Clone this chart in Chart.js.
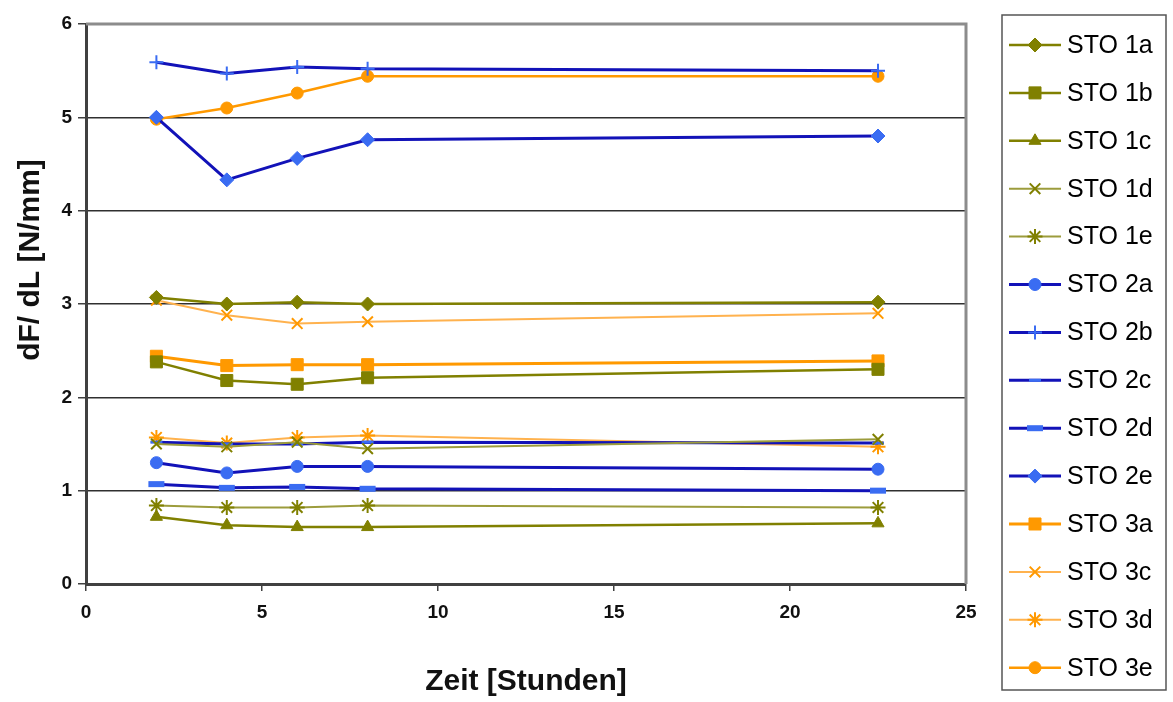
<!DOCTYPE html>
<html>
<head>
<meta charset="utf-8">
<title>STO dF/dL</title>
<script src="https://cdn.jsdelivr.net/npm/chart.js@4/dist/chart.umd.min.js"></script>
<style>
  html, body { margin: 0; padding: 0; background: #fff; }
  #wrap { width: 1173px; height: 702px; }
</style>
</head>
<body>
<div id="wrap"><canvas id="stoChart" width="1173" height="702"></canvas></div>
<script>
// Measuring times in hours
const hours = [2, 4, 6, 8, 22.5];

// dF/dL per sample [N/mm]
const sto1a = [3.07, 3.00, 3.02, 3.00, 3.02];
const sto1b = [2.38, 2.18, 2.14, 2.21, 2.30];
const sto1c = [0.72, 0.63, 0.61, 0.61, 0.65];
const sto1d = [1.50, 1.47, 1.52, 1.45, 1.55];
const sto1e = [0.84, 0.82, 0.82, 0.84, 0.82];
const sto2a = [1.30, 1.19, 1.26, 1.26, 1.23];
const sto2b = [5.59, 5.47, 5.54, 5.52, 5.50];
const sto2c = [1.52, 1.50, 1.50, 1.52, 1.51];
const sto2d = [1.07, 1.03, 1.04, 1.02, 1.00];
const sto2e = [5.00, 4.33, 4.56, 4.76, 4.80];
const sto3a = [2.44, 2.34, 2.35, 2.35, 2.39];
const sto3c = [3.04, 2.88, 2.79, 2.81, 2.90];
const sto3d = [1.57, 1.51, 1.57, 1.59, 1.47];
const sto3e = [4.98, 5.10, 5.26, 5.44, 5.44];

const xTicks = [0, 5, 10, 15, 20, 25];
const yTicks = [0, 1, 2, 3, 4, 5, 6];

const OLIVE = '#808000';
const OLIVE_LIGHT = '#9c9c3c';
const NAVY = '#1212b8';
const BLUE = '#3a6cf2';
const ORANGE = '#ff9900';
const ORANGE_LIGHT = '#ffb24e';

// name, values, line colour, line width, marker colour, marker style, marker radius, marker stroke
const seriesList = [
    ['STO 1a', sto1a, OLIVE, 2.5, OLIVE, 'rectRot', 7, 1],
    ['STO 1b', sto1b, OLIVE, 2.5, OLIVE, 'rect', 8.5, 1],
    ['STO 1c', sto1c, OLIVE, 2.5, OLIVE, 'triangle', 7, 1],
    ['STO 1d', sto1d, OLIVE_LIGHT, 2, OLIVE, 'crossRot', 7.5, 2],
    ['STO 1e', sto1e, OLIVE_LIGHT, 2, OLIVE, 'star', 7.5, 2],
    ['STO 2a', sto2a, NAVY, 3, BLUE, 'circle', 6, 1],
    ['STO 2b', sto2b, NAVY, 3, BLUE, 'cross', 7, 2],
    ['STO 2c', sto2c, NAVY, 3, BLUE, 'line', 6, 3],
    ['STO 2d', sto2d, NAVY, 3, BLUE, 'line', 8, 6],
    ['STO 2e', sto2e, NAVY, 3, BLUE, 'rectRot', 7, 1],
    ['STO 3a', sto3a, ORANGE, 3, ORANGE, 'rect', 8.5, 1],
    ['STO 3c', sto3c, ORANGE_LIGHT, 2, ORANGE, 'crossRot', 7.5, 2],
    ['STO 3d', sto3d, ORANGE_LIGHT, 2, ORANGE, 'star', 7.5, 2],
    ['STO 3e', sto3e, ORANGE, 2.5, ORANGE, 'circle', 6, 1]
];

const datasets = seriesList.map(s => ({
    label: s[0],
    data: s[1].map((v, i) => ({ x: hours[i], y: v })),
    borderColor: s[2],
    borderWidth: s[3],
    pointBackgroundColor: s[4],
    pointBorderColor: s[4],
    pointStyle: s[5],
    pointRadius: s[6],
    pointBorderWidth: s[7],
    tension: 0,
    fill: false
}));

// Frame, titles and the boxed legend on the right
const framePlugin = {
    id: 'frame',
    afterDraw(chart) {
        const ctx = chart.ctx;
        const a = chart.chartArea;
        ctx.save();

        // top and right border of the plot area
        ctx.strokeStyle = '#8c8c8c';
        ctx.lineWidth = 3;
        ctx.beginPath();
        ctx.moveTo(a.left, a.top);
        ctx.lineTo(a.right, a.top);
        ctx.lineTo(a.right, a.bottom);
        ctx.stroke();

        // axis titles
        ctx.fillStyle = '#111';
        ctx.font = 'bold 30px "Liberation Sans", Arial, sans-serif';
        ctx.textAlign = 'center';
        ctx.textBaseline = 'middle';
        ctx.fillText('Zeit [Stunden]', (a.left + a.right) / 2, 682);
        ctx.save();
        ctx.translate(31, 260);
        ctx.rotate(-Math.PI / 2);
        ctx.fillText('dF/ dL [N/mm]', 0, 0);
        ctx.restore();

        // legend box
        ctx.strokeStyle = '#555';
        ctx.lineWidth = 1.5;
        ctx.strokeRect(1002, 15, 164, 675);

        ctx.font = '25px "Liberation Sans", Arial, sans-serif';
        ctx.textAlign = 'left';
        chart.data.datasets.forEach((ds, i) => {
            const y = 45 + i * 47.9;
            ctx.strokeStyle = ds.borderColor;
            ctx.lineWidth = ds.borderWidth;
            ctx.beginPath();
            ctx.moveTo(1009, y);
            ctx.lineTo(1061, y);
            ctx.stroke();
            ctx.fillStyle = ds.pointBackgroundColor;
            ctx.strokeStyle = ds.pointBorderColor;
            ctx.lineWidth = ds.pointBorderWidth;
            Chart.helpers.drawPoint(ctx, {
                pointStyle: ds.pointStyle,
                radius: ds.pointRadius,
                borderWidth: ds.pointBorderWidth,
                rotation: 0
            }, 1035, y);
            ctx.fillStyle = '#000';
            ctx.fillText(ds.label, 1067, y + 1);
        });
        ctx.restore();
    }
};

const ctx = document.getElementById('stoChart').getContext('2d');
const chart = new Chart(ctx, {
    type: 'line',
    data: { datasets: datasets },
    options: {
        responsive: false,
        animation: false,
        layout: { padding: { top: 24, right: 207, left: 0, bottom: 0 } },
        plugins: {
            legend: { display: false },
            tooltip: { enabled: false }
        },
        scales: {
            x: {
                type: 'linear',
                min: 0,
                max: 25,
                afterFit: s => { s.height = 118; },
                afterBuildTicks: s => { s.ticks = xTicks.map(v => ({ value: v })); },
                grid: { drawOnChartArea: false, drawTicks: true, tickLength: 7, color: '#404040', lineWidth: 1.5 },
                border: { color: '#404040', width: 3 },
                ticks: {
                    color: '#111',
                    padding: 10,
                    maxRotation: 0,
                    font: { family: '"Liberation Sans", Arial, sans-serif', size: 19, weight: 'bold' }
                }
            },
            y: {
                min: 0,
                max: 6,
                afterFit: s => { s.width = 86; },
                afterBuildTicks: s => { s.ticks = yTicks.map(v => ({ value: v })); },
                grid: {
                    drawTicks: true,
                    tickLength: 8,
                    lineWidth: 1.5,
                    color: c => (c.tick && (c.tick.value === 0 || c.tick.value === 6)) ? 'rgba(0,0,0,0)' : '#303030',
                    tickColor: '#404040'
                },
                border: { color: '#404040', width: 3 },
                ticks: {
                    color: '#111',
                    padding: 6,
                    font: { family: '"Liberation Sans", Arial, sans-serif', size: 19, weight: 'bold' }
                }
            }
        }
    },
    plugins: [framePlugin]
});
</script>
</body>
</html>
